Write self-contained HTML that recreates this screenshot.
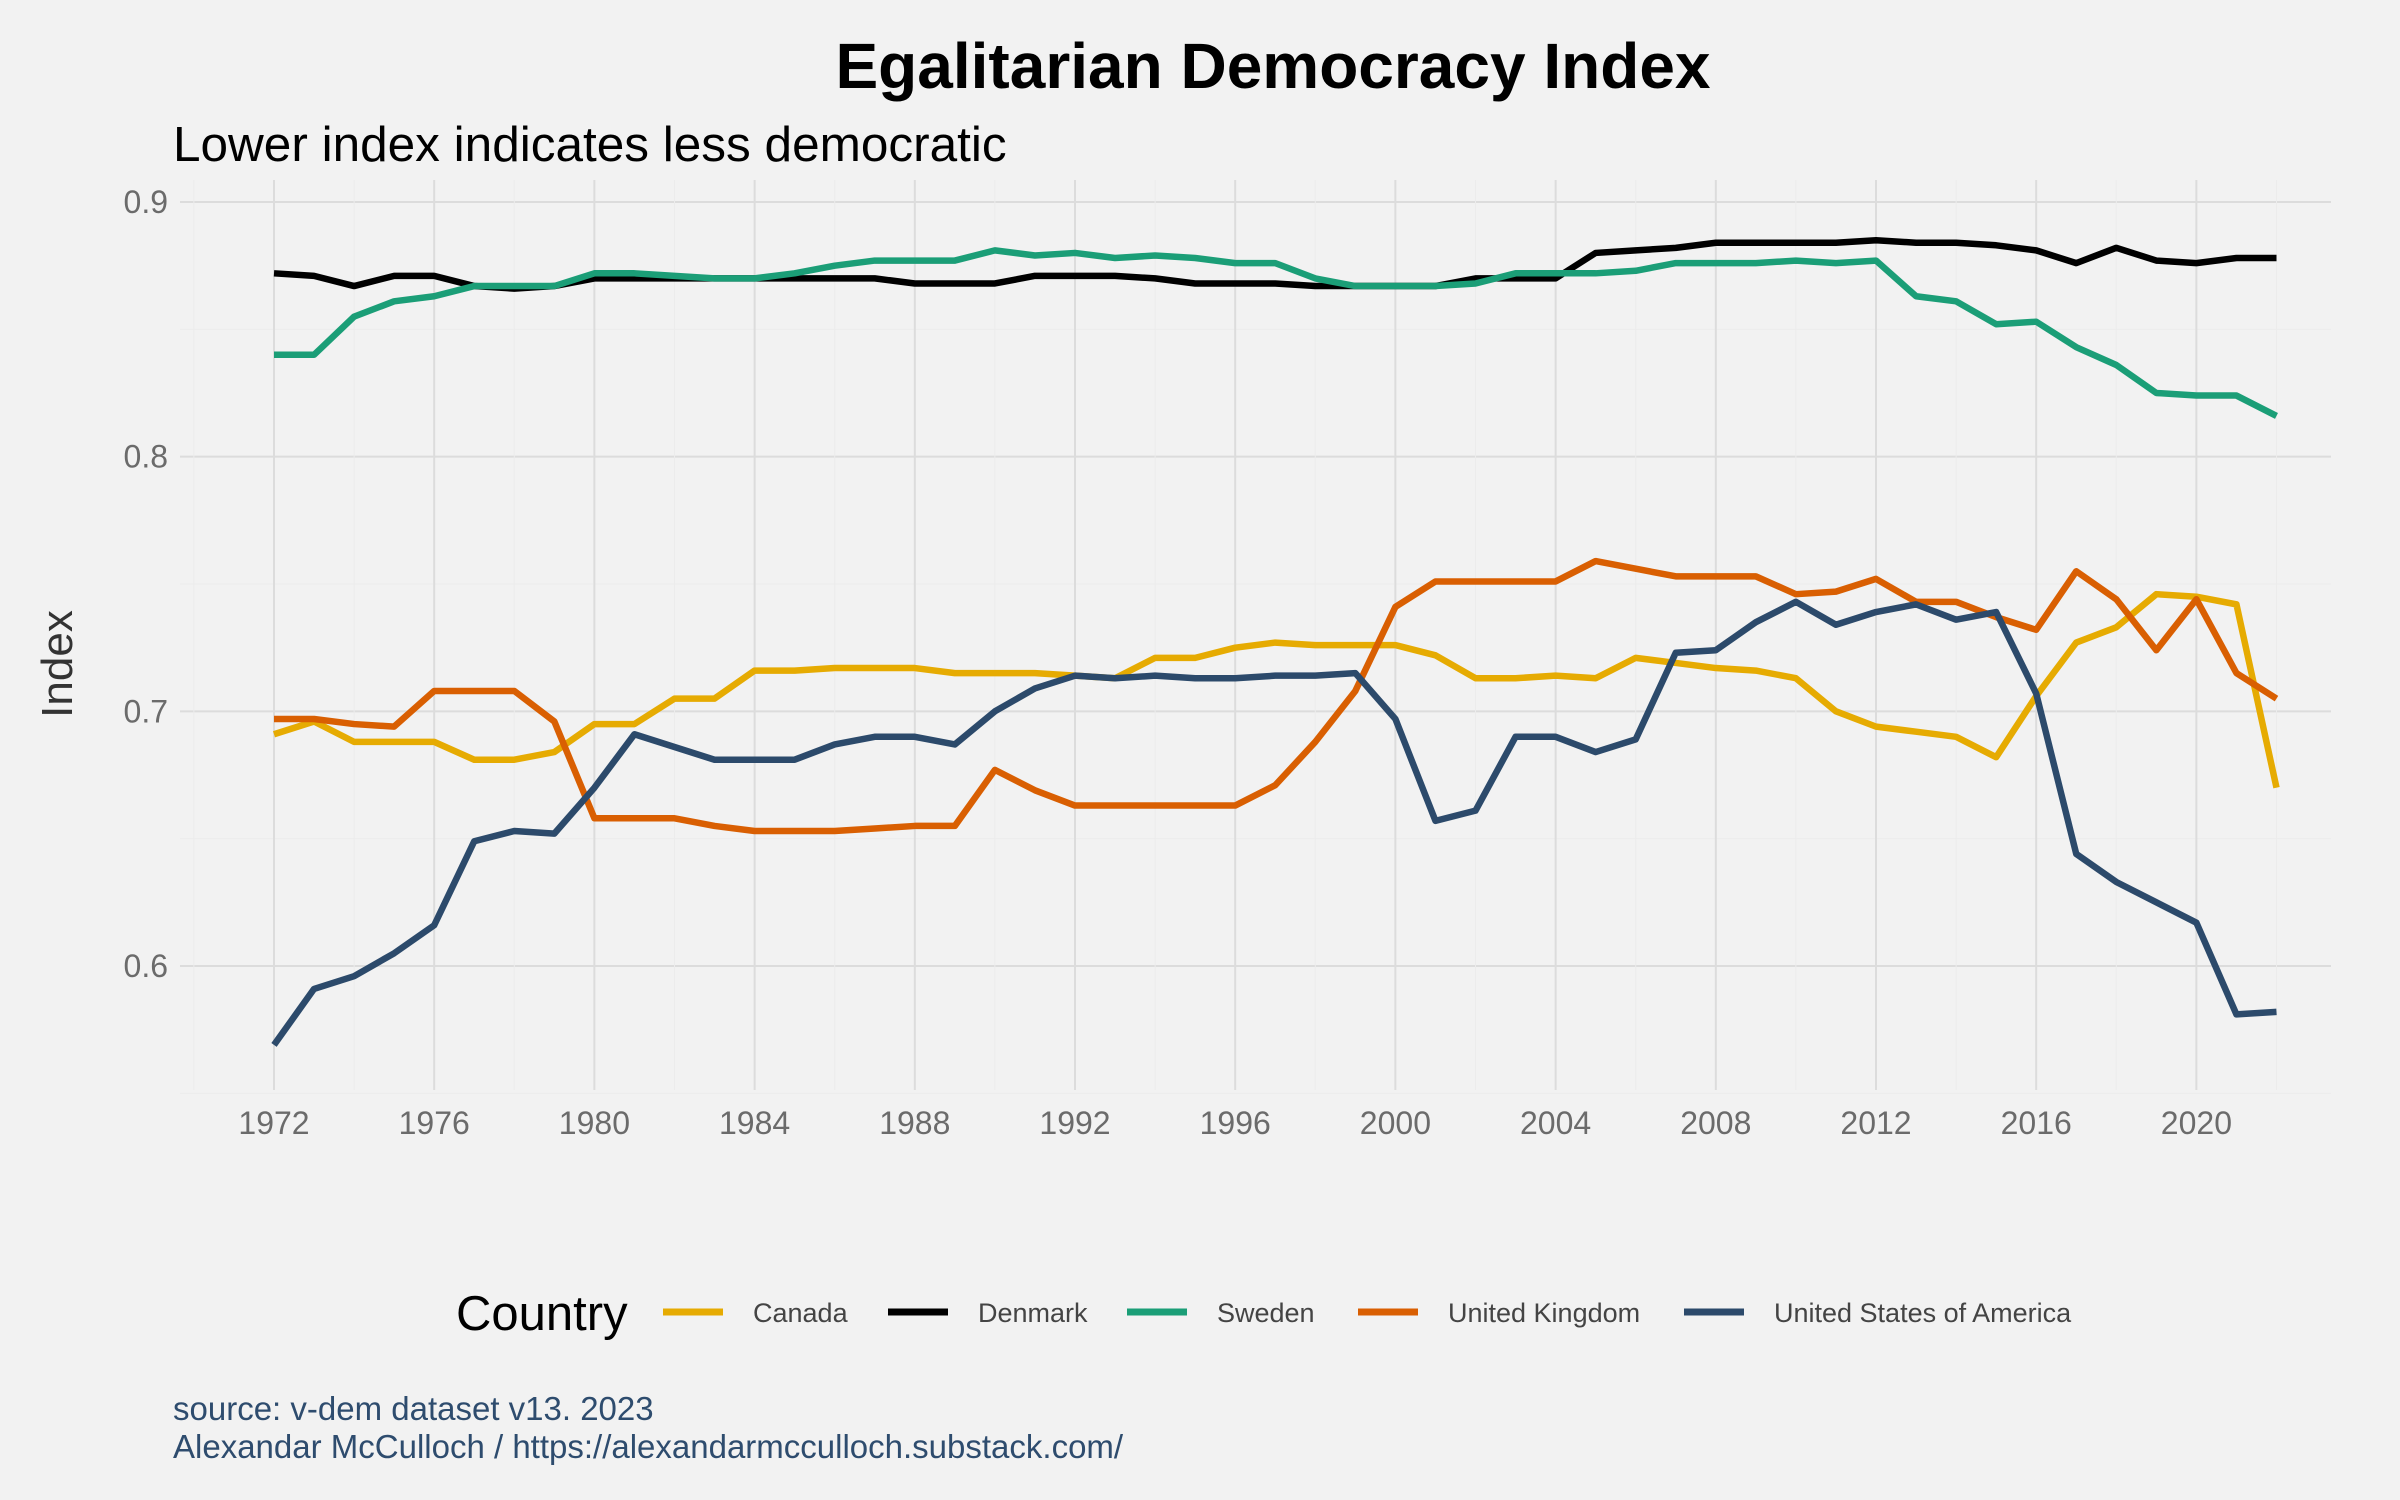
<!DOCTYPE html>
<html><head><meta charset="utf-8"><style>
body{margin:0;background:#f2f2f2;font-family:"Liberation Sans",sans-serif}
svg{display:block}
</style></head><body>
<svg id="chart" width="2400" height="1500" viewBox="0 0 2400 1500">
<rect width="2400" height="1500" fill="#f2f2f2"/>
<text x="1273" y="88" font-size="64" font-weight="bold" text-anchor="middle" fill="#000">Egalitarian Democracy Index</text>
<text x="173" y="161" font-size="49.5" fill="#000">Lower index indicates less democratic</text>
<text transform="translate(72,664) rotate(-90)" font-size="44" fill="#333" text-anchor="middle">Index</text>
<g id="grid"></g>
<g id="series"></g>
<g id="legend">
<text x="456" y="1330" font-size="49" fill="#000">Country</text>
</g>
<text x="173" y="1420" font-size="33" fill="#2e4c6e">source: v-dem dataset v13. 2023</text>
<text x="173" y="1458" font-size="33" fill="#2e4c6e">Alexandar McCulloch / https://alexandarmcculloch.substack.com/</text>
</svg>
<script>
const years=[];for(let y=1972;y<=2022;y++)years.push(y);
const xTicks=[1972,1976,1980,1984,1988,1992,1996,2000,2004,2008,2012,2016,2020];
const yTicks=[0.6,0.7,0.8,0.9];
const countries=["Canada","Denmark","Sweden","United Kingdom","United States of America"];
const colors=["#e6ab02","#000000","#1b9e77","#d95f02","#2c4a6b"];
const canada=[.691,.696,.688,.688,.688,.681,.681,.684,.695,.695,.705,.705,.716,.716,.717,.717,.717,.715,.715,.715,.714,.713,.721,.721,.725,.727,.726,.726,.726,.722,.713,.713,.714,.713,.721,.719,.717,.716,.713,.700,.694,.692,.690,.682,.706,.727,.733,.746,.745,.742,.670];
const denmark=[.872,.871,.867,.871,.871,.867,.866,.867,.870,.870,.870,.870,.870,.870,.870,.870,.868,.868,.868,.871,.871,.871,.870,.868,.868,.868,.867,.867,.867,.867,.870,.870,.870,.880,.881,.882,.884,.884,.884,.884,.885,.884,.884,.883,.881,.876,.882,.877,.876,.878,.878];
const sweden=[.840,.840,.855,.861,.863,.867,.867,.867,.872,.872,.871,.870,.870,.872,.875,.877,.877,.877,.881,.879,.880,.878,.879,.878,.876,.876,.870,.867,.867,.867,.868,.872,.872,.872,.873,.876,.876,.876,.877,.876,.877,.863,.861,.852,.853,.843,.836,.825,.824,.824,.816];
const uk=[.697,.697,.695,.694,.708,.708,.708,.696,.658,.658,.658,.655,.653,.653,.653,.654,.655,.655,.677,.669,.663,.663,.663,.663,.663,.671,.688,.708,.741,.751,.751,.751,.751,.759,.756,.753,.753,.753,.746,.747,.752,.743,.743,.737,.732,.755,.744,.724,.744,.715,.705];
const usa=[.569,.591,.596,.605,.616,.649,.653,.652,.670,.691,.686,.681,.681,.681,.687,.690,.690,.687,.700,.709,.714,.713,.714,.713,.713,.714,.714,.715,.697,.657,.661,.690,.690,.684,.689,.723,.724,.735,.743,.734,.739,.742,.736,.739,.707,.644,.633,.625,.617,.581,.582];
const seriesData=[canada,denmark,sweden,uk,usa];
const X=y=>274+(y-1972)*(2196.4-274)/48;
const Y=v=>966-(v-0.6)*(966-202)/0.3;
const NS="http://www.w3.org/2000/svg";
function mk(tag,attrs,parent){const e=document.createElementNS(NS,tag);for(const k in attrs)e.setAttribute(k,attrs[k]);parent.appendChild(e);return e;}
const grid=document.getElementById('grid');
for(let v=0.55;v<=0.901;v+=0.05){const major=Math.abs(v*10-Math.round(v*10))<0.01;const l=mk('line',{x1:180,x2:2331,y1:Y(v),y2:Y(v),stroke:major?'#dcdcdc':'#ececec','stroke-width':major?2:1},grid);

}
for(let y=1970;y<=2024;y+=2){if(X(y)<180||X(y)>2331)continue;const major=y%4==0;const l=mk('line',{x1:X(y),x2:X(y),y1:180,y2:1090,stroke:major?'#dcdcdc':'#ececec','stroke-width':major?2:1},grid);

}
yTicks.forEach(v=>{const t=mk('text',{x:168,y:Y(v)+11,'font-size':32,fill:'#6b6b6b','text-anchor':'end'},grid);t.textContent=String(v);

});
xTicks.forEach(v=>{const t=mk('text',{x:X(v),y:1134,'font-size':32,fill:'#6b6b6b','text-anchor':'middle'},grid);t.textContent=String(v);

});
const sg=document.getElementById('series');
seriesData.forEach((d,i)=>{const p=mk('polyline',{points:d.map((v,j)=>X(years[j])+','+Y(v)).join(' '),fill:'none',stroke:colors[i],'stroke-width':6.5,'stroke-linejoin':'round'},sg);

});
const lg=document.getElementById('legend');
const keyX=[663,888,1127,1358,1684];
countries.forEach((c,i)=>{const g=mk('g',{},lg);


mk('line',{x1:keyX[i],x2:keyX[i]+60,y1:1312,y2:1312,stroke:colors[i],'stroke-width':7},g);
const t=mk('text',{x:keyX[i]+90,y:1322,'font-size':27,fill:'#444'},g);t.textContent=c;});
</script>
</body></html>
